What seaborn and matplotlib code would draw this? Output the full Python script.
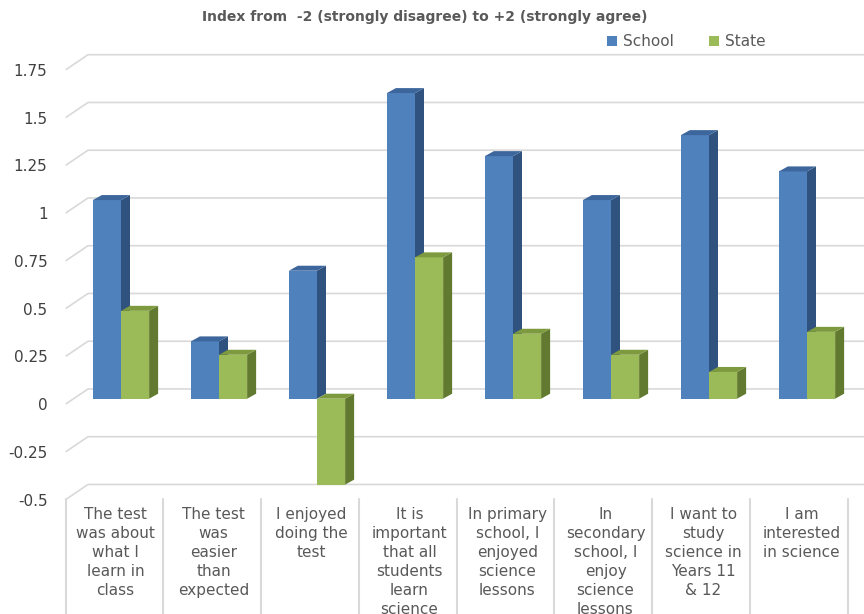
import numpy as np
import pandas as pd
import matplotlib
matplotlib.use("Agg")
import matplotlib.pyplot as plt
import matplotlib.transforms as mtransforms
from matplotlib.patches import Polygon, Patch
import seaborn as sns

categories = [
    "The test\nwas about\nwhat I\nlearn in\nclass",
    "The test\nwas\neasier\nthan\nexpected",
    "I enjoyed\ndoing the\ntest",
    "It is\nimportant\nthat all\nstudents\nlearn\nscience",
    "In primary\nschool, I\nenjoyed\nscience\nlessons",
    "In\nsecondary\nschool, I\nenjoy\nscience\nlessons",
    "I want to\nstudy\nscience in\nYears 11\n& 12",
    "I am\ninterested\nin science",
]
school = [1.04, 0.30, 0.67, 1.60, 1.27, 1.04, 1.38, 1.19]
state = [0.46, 0.23, -0.45, 0.74, 0.34, 0.23, 0.14, 0.35]
series_names = ["School", "State"]
yticks = [-0.5, -0.25, 0, 0.25, 0.5, 0.75, 1, 1.25, 1.5, 1.75]
ytick_labels = ["-0.5", "-0.25", "0", "0.25", "0.5", "0.75", "1", "1.25", "1.5", "1.75"]
title = "Index from  -2 (strongly disagree) to +2 (strongly agree)"

front_colors = {"School": "#4F81BD", "State": "#9BBB59"}
side_colors = {"School": "#30527F", "State": "#627A2F"}
top_colors = {"School": "#3D679C", "State": "#7E9A3F"}

df = pd.DataFrame({
    "cat": list(range(len(categories))) * 2,
    "value": school + state,
    "series": ["School"] * len(school) + ["State"] * len(state),
})

sns.set_theme(style="white")
plt.rcParams["font.family"] = ["DejaVu Sans"]

W, H = 864, 614
fig = plt.figure(figsize=(W / 100, H / 100), dpi=100)
ax_l, ax_r, ax_t, ax_b = 67, 864, 30, 499
ax = fig.add_axes([ax_l / W, 1 - ax_b / H, (ax_r - ax_l) / W, (ax_b - ax_t) / H])

px_per_cat = 98.0
px_per_unit = 191.0
x0_px = 121.0   # pixel of category 0 center
y0_px = 398.7   # pixel of value 0

sns.barplot(data=df, x="cat", y="value", hue="series", order=list(range(len(categories))),
            hue_order=series_names, palette=front_colors, saturation=1, width=0.574,
            dodge=True, ax=ax, legend=False, linewidth=0)

ax.set_xlim((ax_l - x0_px) / px_per_cat, (ax_r - x0_px) / px_per_cat)
ax.set_ylim((y0_px - ax_b) / px_per_unit, (y0_px - ax_t) / px_per_unit)
xmin, xmax = ax.get_xlim()

# back wall gridlines with perspective stubs
grid_c = "#D9D9D9"
for v in yticks:
    ax.plot([(65.7 - x0_px) / px_per_cat, (88 - x0_px) / px_per_cat, xmax],
            [v - 0.028, v + 0.051, v + 0.051], color=grid_c, lw=1.2,
            zorder=1, clip_on=False, solid_capstyle="butt")

# 3D depth faces derived from the bar patches
ddx = 9 / px_per_cat
ddy = 5 / px_per_unit
bars = [p for p in ax.patches]
n = len(categories)
for i, p in enumerate(bars):
    s = series_names[i // n]
    x, y, w, h = p.get_x(), p.get_y(), p.get_width(), p.get_height()
    y_lo, y_hi = min(y, y + h), max(y, y + h)
    z = 3 if s == "School" else 4
    p.set_zorder(z)
    side = Polygon([(x + w, y_lo), (x + w + ddx, y_lo + ddy), (x + w + ddx, y_hi + ddy), (x + w, y_hi)],
                   closed=True, facecolor=side_colors[s], edgecolor="none", zorder=z)
    top = Polygon([(x, y_hi), (x + ddx, y_hi + ddy), (x + w + ddx, y_hi + ddy), (x + w, y_hi)],
                  closed=True, facecolor=top_colors[s], edgecolor="none", zorder=z)
    ax.add_patch(side)
    ax.add_patch(top)

# y axis ticks
ax.set_yticks(yticks)
ax.set_yticklabels(ytick_labels)
ax.tick_params(axis="y", length=0, pad=14, labelsize=11, labelcolor="#404040")
off_y = mtransforms.ScaledTranslation(0, -5.5 / 100, fig.dpi_scale_trans)
for lab in ax.get_yticklabels():
    lab.set_transform(lab.get_transform() + off_y)

# x axis category table
ax.set_xticks(range(n))
ax.set_xticklabels(categories)
ax.tick_params(axis="x", length=0, pad=6, labelsize=11, labelcolor="#595959")
off_x = mtransforms.ScaledTranslation(-5.5 / 100, 0, fig.dpi_scale_trans)
for lab in ax.get_xticklabels():
    lab.set_transform(lab.get_transform() + off_x)
    lab.set_linespacing(1.33)
ax.set_xlabel("")
ax.set_ylabel("")
for sp in ax.spines.values():
    sp.set_visible(False)

blend = mtransforms.blended_transform_factory(ax.transData, ax.transAxes)
for j in range(n + 1):
    xd = (65.7 + 97.75 * j - x0_px) / px_per_cat
    ax.plot([xd, xd], [0, -(H - ax_b) / (ax_b - ax_t)], transform=blend, color=grid_c,
            lw=1.5, clip_on=False, zorder=1)

fig.text(424.9 / W, 1 - 17 / H, title, ha="center", va="center", fontsize=10,
         fontweight="bold", color="#595959")

handles = [Patch(facecolor=front_colors[s], edgecolor="none", label=s) for s in series_names]
fig.legend(handles=handles, loc="center", bbox_to_anchor=(686 / W, 1 - 42 / H), ncol=2,
           frameon=False, fontsize=11, handlelength=0.65, handleheight=0.65,
           handletextpad=0.4, columnspacing=2.3, labelcolor="#595959",
           borderaxespad=0, borderpad=0)

fig.savefig("out.png", dpi=100)
